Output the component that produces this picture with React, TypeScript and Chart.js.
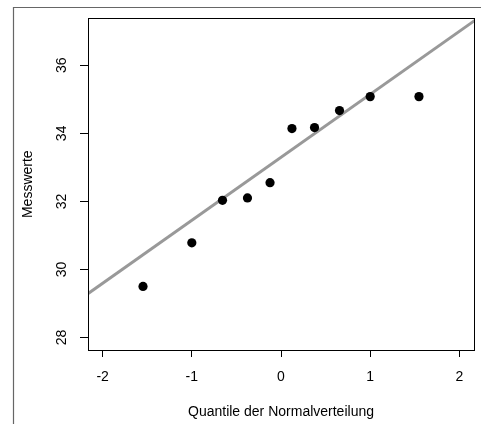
import React, { useEffect, useRef } from "react";
import { Chart, registerables } from "chart.js";

Chart.register(...registerables);

// Theoretical normal quantiles (ppoints, n = 10)
const theoreticalQuantiles = [-1.547, -1.0, -0.656, -0.376, -0.123, 0.123, 0.376, 0.656, 1.0, 1.547];
// Sorted sample values (Messwerte)
const measuredValues = [29.5, 30.78, 32.03, 32.1, 32.55, 34.14, 34.17, 34.67, 35.08, 35.08];

const xTickValues = [-2, -1, 0, 1, 2];
const yTickValues = [28, 30, 32, 34, 36];

const xTitle = "Quantile der Normalverteilung";
const yTitle = "Messwerte";

const xRange = [-2.164, 2.164];
const yRange = [27.63, 37.38];

// qqline: straight line through the first and third quartiles
function quantile7(sorted: number[], p: number) {
  const h = (sorted.length - 1) * p;
  const lo = Math.floor(h);
  const hi = Math.ceil(h);
  return sorted[lo] + (h - lo) * (sorted[hi] - sorted[lo]);
}
const zq = 0.6744898;
const q1 = quantile7(measuredValues, 0.25);
const q3 = quantile7(measuredValues, 0.75);
const lineSlope = (q3 - q1) / (2 * zq);
const lineIntercept = (q1 + q3) / 2;
const lineX = [-2.4, 2.4];

const FONT = "'Liberation Sans', Arial, Helvetica, sans-serif";
const FS = 14;

const framePlugin = {
  id: "frame",
  afterDraw(chart: any) {
    const { ctx, chartArea } = chart;
    ctx.save();
    // outer figure frame
    ctx.strokeStyle = "#666666";
    ctx.lineWidth = 1.2;
    ctx.beginPath();
    ctx.moveTo(13.5, 430);
    ctx.lineTo(13.5, 7.5);
    ctx.lineTo(490, 7.5);
    ctx.stroke();
    // plot box
    ctx.strokeStyle = "#000000";
    ctx.lineWidth = 1;
    const l = Math.round(chartArea.left) + 0.5;
    const t = Math.round(chartArea.top) + 0.5;
    const r = Math.round(chartArea.right) + 0.5;
    const b = Math.round(chartArea.bottom) + 0.5;
    ctx.strokeRect(l, t, r - l, b - t);
    ctx.restore();
  },
};

export default function App() {
  const ref = useRef<HTMLCanvasElement | null>(null);
  useEffect(() => {
    if (!ref.current) return;
    const chart = new Chart(ref.current, {
      type: "scatter",
      data: {
        datasets: [
          {
            type: "line",
            data: lineX.map((x) => ({ x, y: lineIntercept + lineSlope * x })),
            borderColor: "#999999",
            borderWidth: 3,
            pointRadius: 0,
            fill: false,
            clip: 0,
            order: 2,
          } as any,
          {
            type: "scatter",
            data: theoreticalQuantiles.map((x, i) => ({ x, y: measuredValues[i] })),
            backgroundColor: "#000000",
            borderWidth: 0,
            pointRadius: 4.6,
            pointHoverRadius: 4.6,
            order: 1,
          },
        ],
      },
      options: {
        responsive: false,
        animation: false,
        layout: { padding: { top: 16, right: 7, left: 0, bottom: 0 } },
        plugins: { legend: { display: false }, tooltip: { enabled: false } },
        scales: {
          x: {
            type: "linear",
            min: xRange[0],
            max: xRange[1],
            afterBuildTicks: (s: any) => {
              s.ticks = xTickValues.map((v) => ({ value: v }));
            },
            afterFit: (s: any) => {
              s.height = 74;
            },
            ticks: {
              includeBounds: false,
              color: "#000000",
              font: { family: FONT, size: FS },
              padding: 12,
              maxRotation: 0,
              autoSkip: false,
            },
            grid: { drawOnChartArea: false, drawTicks: true, tickLength: 7, color: "#000000" },
            border: { display: false },
            title: {
              display: true,
              text: xTitle,
              color: "#000000",
              font: { family: FONT, size: FS },
              padding: { top: 0, bottom: 3.6 },
            },
          },
          y: {
            type: "linear",
            min: yRange[0],
            max: yRange[1],
            afterBuildTicks: (s: any) => {
              s.ticks = yTickValues.map((v) => ({ value: v }));
            },
            afterFit: (s: any) => {
              s.width = 88;
            },
            ticks: {
              includeBounds: false,
              color: "#000000",
              font: { family: FONT, size: FS },
              padding: 10,
              minRotation: 90,
              maxRotation: 90,
              crossAlign: "center",
              autoSkip: false,
            },
            grid: { drawOnChartArea: false, drawTicks: true, tickLength: 8, color: "#000000" },
            border: { display: false },
            title: {
              display: true,
              text: yTitle,
              color: "#000000",
              font: { family: FONT, size: FS },
              padding: { top: 19.6, bottom: 0 },
            },
          },
        },
      },
      plugins: [framePlugin],
    });
    return () => chart.destroy();
  }, []);
  return (
    <div style={{ position: "fixed", left: 0, top: 0, width: 481, height: 424, background: "#ffffff" }}>
      <canvas ref={ref} width={481} height={424} style={{ width: 481, height: 424, display: "block" }} />
    </div>
  );
}
